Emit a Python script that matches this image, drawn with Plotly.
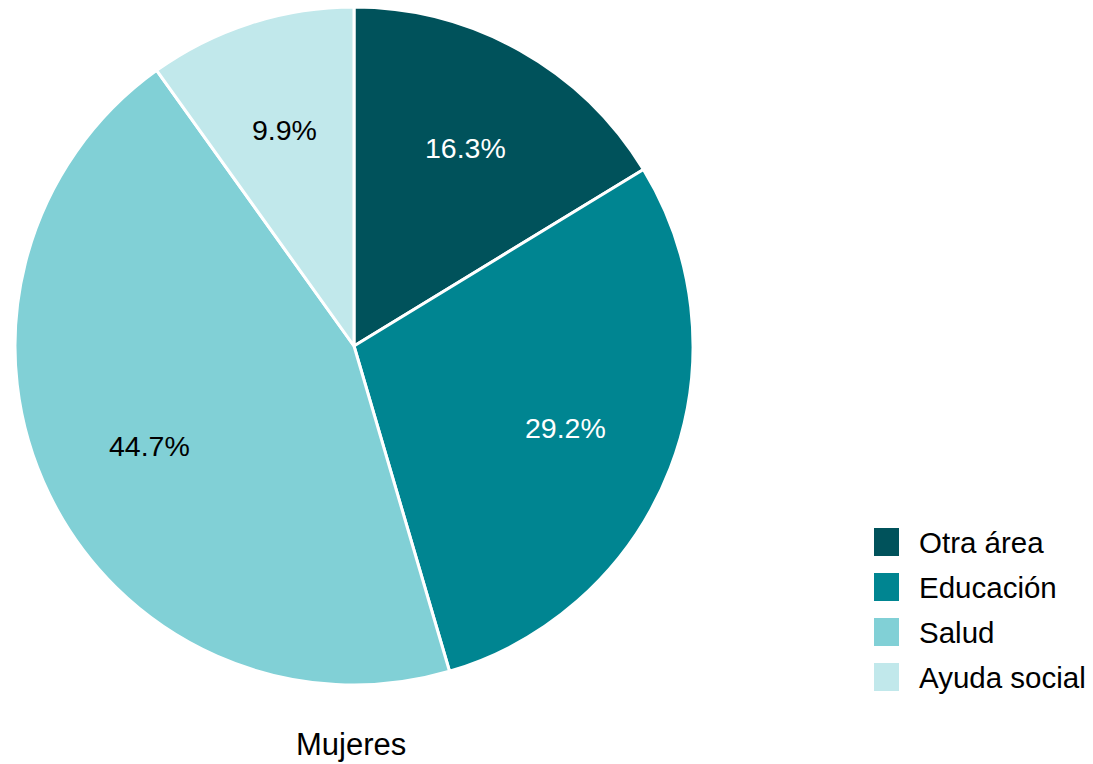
import math
import plotly.graph_objects as go

categories = ["Otra área", "Educación", "Salud", "Ayuda social"]
values = [16.3, 29.2, 44.7, 9.9]
colors = ["#00525B", "#008591", "#81D0D6", "#C1E8EB"]
text_colors = ["white", "white", "black", "black"]
title_text = "Mujeres"

W, H = 1093, 764
cx, cy, R = 354, 346, 339
FONT = "Liberation Sans, Arial, sans-serif"

fig = go.Figure()
fig.add_trace(go.Pie(
    labels=categories, values=values, sort=False, direction="clockwise", rotation=0,
    marker=dict(colors=colors, line=dict(color="white", width=3)),
    textinfo="none", hoverinfo="label+percent", showlegend=False,
    domain=dict(x=[(cx - R) / W, (cx + R) / W], y=[1 - (cy + R) / H, 1 - (cy - R) / H]),
))

annotations = []
total = sum(values)
cum = 0
for v, tc in zip(values, text_colors):
    th = 2 * math.pi * (cum + v / 2) / total
    cum += v
    px = cx + 0.67 * R * math.sin(th)
    py = cy - 0.67 * R * math.cos(th)
    annotations.append(dict(x=px / W, y=1 - py / H, xref="paper", yref="paper",
                            xanchor="center", yanchor="middle",
                            text=f"{v:.1f}%", showarrow=False,
                            font=dict(family=FONT, size=28.5, color=tc)))

shapes = []
for i, (c, col) in enumerate(zip(categories, colors)):
    yc = 542 + 45 * i
    shapes.append(dict(type="rect", xref="paper", yref="paper",
                       x0=874 / W, x1=899 / W, y0=1 - (yc + 14) / H, y1=1 - (yc - 14) / H,
                       fillcolor=col, line=dict(width=0)))
    annotations.append(dict(x=917 / W, y=1 - yc / H, xref="paper", yref="paper",
                            text=c, showarrow=False, xanchor="left", yanchor="middle",
                            font=dict(family=FONT, size=29.5, color="black")))

annotations.append(dict(x=351 / W, y=1 - 744 / H, xref="paper", yref="paper",
                        text=title_text, showarrow=False, xanchor="center", yanchor="middle",
                        font=dict(family=FONT, size=31, color="black")))

fig.update_layout(width=W, height=H, margin=dict(l=0, r=0, t=0, b=0),
                  paper_bgcolor="white", plot_bgcolor="white",
                  annotations=annotations, shapes=shapes, showlegend=False)
fig.write_html("out.html", config={"displayModeBar": False},
               post_script="document.body.style.margin='0';document.body.style.overflow='hidden';")
